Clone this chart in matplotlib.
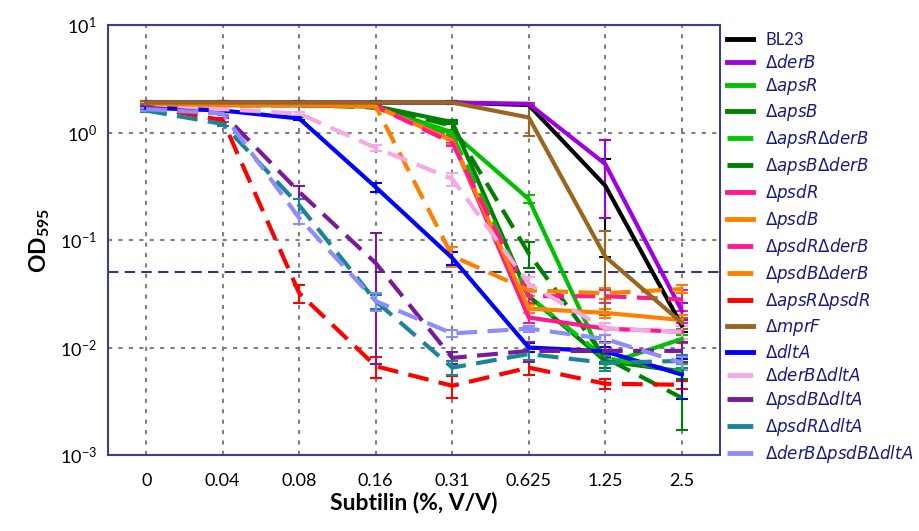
import numpy as np
import matplotlib
matplotlib.use('Agg')
import matplotlib.pyplot as plt
from matplotlib.lines import Line2D

plt.rcParams['font.family'] = ['Lato', 'DejaVu Sans']
plt.rcParams['mathtext.default'] = 'regular'

# Subtilin concentrations (categorical x axis)
conc_labels = ['0', '0.04', '0.08', '0.16', '0.31', '0.625', '1.25', '2.5']

# OD595 values
bl23 = [1.9, 1.9, 1.9, 1.9, 1.9, 1.8, 0.32, 0.016]
der_b = [1.9, 1.9, 1.9, 1.9, 1.9, 1.85, 0.51, 0.022]
aps_r = [1.8, 1.8, 1.8, 1.75, 1.0, 0.24, 0.007, 0.012]
aps_b = [1.8, 1.8, 1.8, 1.75, 1.25, 0.03, 0.0075, 0.006]
aps_r_der_b = [1.8, 1.8, 1.8, 1.7, 0.95, 0.03, 0.008, 0.006]
aps_b_der_b = [1.8, 1.8, 1.8, 1.75, 1.15, 0.075, 0.008, 0.0034]
psd_r = [1.8, 1.8, 1.8, 1.75, 0.85, 0.019, 0.015, 0.014]
psd_b = [1.8, 1.8, 1.8, 1.75, 0.84, 0.023, 0.021, 0.018]
psd_r_der_b = [1.8, 1.8, 1.8, 1.75, 0.8, 0.030, 0.030, 0.028]
psd_b_der_b = [1.8, 1.8, 1.8, 1.75, 0.071, 0.034, 0.032, 0.035]
aps_r_psd_r = [1.75, 1.3, 0.032, 0.0067, 0.0044, 0.0065, 0.0046, 0.0045]
mpr_f = [1.9, 1.9, 1.9, 1.9, 1.9, 1.38, 0.07, 0.017]
dlt_a = [1.7, 1.6, 1.35, 0.31, 0.068, 0.010, 0.0092, 0.0056]
der_b_dlt_a = [1.7, 1.65, 1.5, 0.72, 0.37, 0.039, 0.015, 0.014]
psd_b_dlt_a = [1.7, 1.5, 0.28, 0.061, 0.008, 0.0093, 0.0093, 0.0093]
psd_r_dlt_a = [1.6, 1.2, 0.21, 0.027, 0.0065, 0.0087, 0.0072, 0.0075]
der_b_psd_b_dlt_a = [1.65, 1.5, 0.16, 0.027, 0.0135, 0.015, 0.012, 0.0072]

# standard deviations
bl23_sd = [0.05, 0.05, 0.05, 0.05, 0.05, 0.05, 0.25, 0.002]
der_b_sd = [0.05, 0.05, 0.05, 0.05, 0.05, 0.05, 0.35, 0.004]
aps_r_sd = [0.05, 0.05, 0.05, 0.05, 0.05, 0.02, 0.001, 0.001]
aps_b_sd = [0.05, 0.05, 0.05, 0.05, 0.05, 0.005, 0.001, 0.001]
aps_r_der_b_sd = [0.05, 0.05, 0.05, 0.05, 0.05, 0.005, 0.001, 0.001]
aps_b_der_b_sd = [0.05, 0.05, 0.05, 0.05, 0.1, 0.02, 0.001, 0.0017]
psd_r_sd = [0.05, 0.05, 0.05, 0.05, 0.05, 0.002, 0.002, 0.003]
psd_b_sd = [0.05, 0.05, 0.05, 0.05, 0.05, 0.002, 0.002, 0.002]
psd_r_der_b_sd = [0.05, 0.05, 0.05, 0.05, 0.05, 0.004, 0.004, 0.006]
psd_b_der_b_sd = [0.05, 0.05, 0.05, 0.05, 0.015, 0.004, 0.004, 0.003]
aps_r_psd_r_sd = [0.05, 0.05, 0.006, 0.0015, 0.001, 0.001, 0.0005, 0.0004]
mpr_f_sd = [0.05, 0.05, 0.05, 0.05, 0.05, 0.45, 0.05, 0.002]
dlt_a_sd = [0.05, 0.05, 0.05, 0.03, 0.01, 0.001, 0.001, 0.0023]
der_b_dlt_a_sd = [0.05, 0.05, 0.05, 0.05, 0.05, 0.006, 0.002, 0.002]
psd_b_dlt_a_sd = [0.05, 0.05, 0.04, 0.054, 0.001, 0.002, 0.002, 0.002]
psd_r_dlt_a_sd = [0.05, 0.05, 0.03, 0.004, 0.001, 0.001, 0.0012, 0.001]
der_b_psd_b_dlt_a_sd = [0.05, 0.05, 0.02, 0.005, 0.001, 0.001, 0.001, 0.001]

series = [
    ('BL23', bl23, bl23_sd, '#000000', '-'),
    (r'$\it{\Delta derB}$', der_b, der_b_sd, '#a100e0', '-'),
    (r'$\it{\Delta apsR}$', aps_r, aps_r_sd, '#00c000', '-'),
    (r'$\it{\Delta apsB}$', aps_b, aps_b_sd, '#008000', '-'),
    (r'$\it{\Delta apsR\Delta derB}$', aps_r_der_b, aps_r_der_b_sd, '#00c800', 'dd'),
    (r'$\it{\Delta apsB\Delta derB}$', aps_b_der_b, aps_b_der_b_sd, '#008000', 'dd'),
    (r'$\it{\Delta psdR}$', psd_r, psd_r_sd, '#ff1a8c', '-'),
    (r'$\it{\Delta psdB}$', psd_b, psd_b_sd, '#ff8000', '-'),
    (r'$\it{\Delta psdR\Delta derB}$', psd_r_der_b, psd_r_der_b_sd, '#ff1a8c', 'dd'),
    (r'$\it{\Delta psdB\Delta derB}$', psd_b_der_b, psd_b_der_b_sd, '#ff8000', 'dd'),
    (r'$\it{\Delta apsR\Delta psdR}$', aps_r_psd_r, aps_r_psd_r_sd, '#ff0000', 'dd'),
    (r'$\it{\Delta mprF}$', mpr_f, mpr_f_sd, '#99661f', '-'),
    (r'$\it{\Delta dltA}$', dlt_a, dlt_a_sd, '#0000ff', '-'),
    (r'$\it{\Delta derB\Delta dltA}$', der_b_dlt_a, der_b_dlt_a_sd, '#f5a8e2', 'dd'),
    (r'$\it{\Delta psdB\Delta dltA}$', psd_b_dlt_a, psd_b_dlt_a_sd, '#7a1a9a', 'dd'),
    (r'$\it{\Delta psdR\Delta dltA}$', psd_r_dlt_a, psd_r_dlt_a_sd, '#1a8596', 'dd'),
    (r'$\it{\Delta derB\Delta psdB\Delta dltA}$', der_b_psd_b_dlt_a,
     der_b_psd_b_dlt_a_sd, '#8c8cff', 'dd'),
]

fig = plt.figure(figsize=(9.2, 5.31), dpi=100)
ax = fig.add_axes([108 / 920, 76 / 531, 612 / 920, 430 / 531])

x = np.arange(len(conc_labels))
handles = []
for name, values, sd, color, style in series:
    if style == 'dd':
        ls = (0, (5, 2.5))
        leg_ls = (0, (5.3, 1.4, 1.4, 2))
    else:
        ls = '-'
        leg_ls = '-'
    ax.errorbar(x, values, yerr=sd, color=color, linestyle=ls, linewidth=3,
                elinewidth=1.5, capsize=4, capthick=1.5)
    handles.append(Line2D([], [], color=color, linestyle=leg_ls,
                          linewidth=3.5, label=name))

# detection threshold
ax.axhline(0.05, color='#2e3a80', linestyle=(0, (5, 3)), linewidth=1.5)

ax.set_yscale('log')
ax.set_ylim(1e-3, 10)
ax.set_xlim(-0.5, 7.5)
ax.set_xticks(x)
ax.set_xticklabels(conc_labels)
ax.tick_params(axis='both', labelsize=13, length=0, pad=8)
ax.tick_params(axis='x', pad=13)
ax.tick_params(axis='y', which='minor', length=0)
ax.grid(axis='both', which='major', color='#808080', linestyle=(0, (2, 3)),
        linewidth=1.5)
for spine in ax.spines.values():
    spine.set_color('#3a3f88')
    spine.set_linewidth(1.5)

ax.set_xlabel('Subtilin (%, V/V)', fontsize=16.5, fontweight='bold', labelpad=2)
ax.set_ylabel('OD$_{595}$', fontsize=16.5, fontweight='bold', labelpad=6)

fig.legend(handles=handles, loc='upper left',
           bbox_to_anchor=(727 / 920, 1 - 32 / 531),
           frameon=False, fontsize=12, labelcolor='#1a1a80',
           handlelength=1.55, labelspacing=0.3, handletextpad=0.75,
           borderpad=0, borderaxespad=0)

plt.savefig('out.png', dpi=100)
